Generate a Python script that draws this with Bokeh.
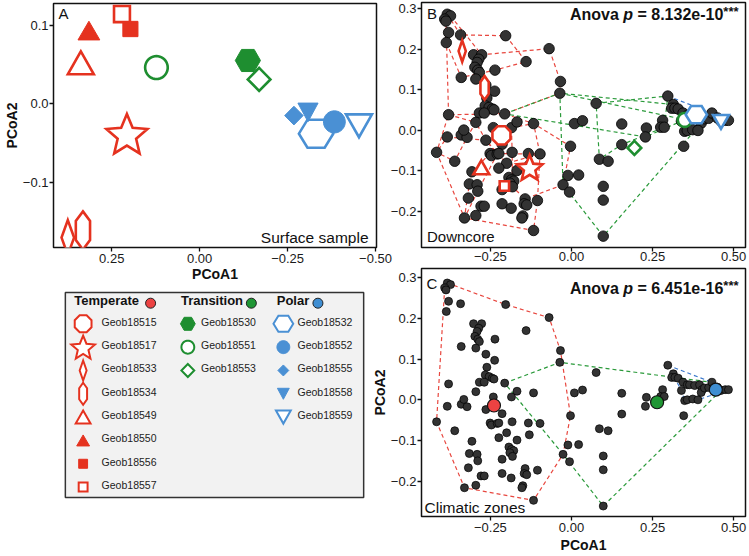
import math
from bokeh.plotting import figure
from bokeh.models import Range1d, FixedTicker, CustomJSTickFormatter
from bokeh.layouts import row, column
from bokeh.core.properties import value
from bokeh.embed import file_html
from bokeh.resources import INLINE

# ---------------------------------------------------------------- data
NA = float("nan")
samples = ["Geob18515", "Geob18517", "Geob18533", "Geob18534", "Geob18549",
           "Geob18550", "Geob18556", "Geob18557",
           "Geob18530", "Geob18551", "Geob18553",
           "Geob18532", "Geob18552", "Geob18555", "Geob18558", "Geob18559"]
zones = ["Temperate"] * 8 + ["Transition"] * 3 + ["Polar"] * 5
zone_order = ["Temperate", "Transition", "Polar"]

# Panel A: surface samples
surf_pcoa1 = [NA, 0.207, 0.375, 0.332, 0.338, 0.315, 0.197, 0.221,
              -0.137, 0.123, -0.169, -0.331, -0.383, -0.268, -0.308, -0.453]
surf_pcoa2 = [NA, -0.038, -0.170, -0.161, 0.052, 0.093, 0.095, 0.114,
              0.055, 0.046, 0.031, -0.038, -0.023, -0.015, -0.011, -0.028]

# Panel B: core means of downcore samples
core_pcoa1 = [-0.216, -0.129, -0.337, -0.268, -0.278, NA, NA, -0.207,
              NA, 0.349, 0.194, 0.385, NA, NA, NA, 0.461]
core_pcoa2 = [-0.012, -0.091, 0.196, 0.105, -0.091, NA, NA, -0.137,
              NA, 0.026, -0.043, 0.039, NA, NA, NA, 0.021]

# Downcore samples (panels B and C)
down_pcoa1 = [-0.383, -0.373, -0.391, -0.387, -0.379, -0.386, -0.342, -0.203, -0.069, -0.140,
              -0.302, -0.277, -0.286, -0.291, -0.298, -0.289, -0.284, -0.295, -0.236, -0.340,
              -0.264, -0.034, -0.036, -0.237, -0.261, -0.266, -0.254, -0.244, -0.239, -0.284,
              -0.269, -0.206, -0.379, 0.076, -0.295, -0.241, -0.185, -0.168, -0.117, 0.009,
              0.034, -0.383, -0.340, -0.322, -0.264, -0.416, -0.214, -0.251, -0.247, -0.229,
              -0.224, -0.183, -0.133, -0.097, -0.003, -0.360, -0.200, -0.224, -0.307, -0.168,
              -0.130, -0.193, -0.185, -0.178, -0.190, -0.182, -0.315, -0.291, -0.289, -0.214,
              -0.011, 0.022, -0.026, -0.006, -0.318, -0.279, -0.269, -0.214, -0.186, -0.143,
              -0.146, -0.138, -0.105, -0.150, -0.153, -0.295, -0.330, -0.117, 0.086, 0.113,
              0.098, 0.098, 0.098, 0.155, 0.155, 0.231, 0.228, 0.281, 0.275, 0.286,
              0.297, 0.314, 0.309, 0.319, 0.329, 0.344, 0.339, 0.357, 0.364, 0.380,
              0.395, 0.403, 0.400, 0.410, 0.423, 0.433, 0.349, 0.357, 0.374, 0.390,
              0.346, 0.461, 0.474, 0.484, 0.450, -0.332]
down_pcoa2 = [0.287, 0.283, 0.275, 0.270, 0.242, 0.217, 0.236, 0.234, 0.202, 0.170,
              0.187, 0.187, 0.176, 0.168, 0.156, 0.149, 0.143, 0.127, 0.149, 0.131,
              0.112, 0.121, 0.092, 0.097, 0.080, 0.061, 0.057, 0.053, 0.051, 0.043,
              0.043, 0.041, 0.039, 0.067, 0.020, 0.007, 0.007, 0.021, 0.017, 0.017,
              0.024, -0.016, -0.011, -0.017, -0.024, -0.054, -0.034, -0.057, -0.062, -0.058,
              -0.057, -0.054, -0.057, -0.058, -0.039, -0.076, -0.081, -0.093, -0.102, -0.099,
              -0.086, -0.116, -0.122, -0.125, -0.130, -0.139, -0.132, -0.134, -0.150, -0.146,
              -0.111, -0.110, -0.134, -0.152, -0.167, -0.187, -0.187, -0.181, -0.192, -0.169,
              -0.181, -0.184, -0.173, -0.211, -0.216, -0.210, -0.216, -0.247, -0.071, -0.076,
              -0.138, -0.172, -0.261, 0.016, -0.035, 0.006, -0.016, 0.025, 0.008, 0.008,
              0.085, 0.064, 0.055, 0.055, 0.053, 0.043, 0.023, 0.037, 0.037, 0.035,
              0.037, 0.025, 0.018, 0.029, 0.030, 0.043, -0.002, 0.000, 0.002, 0.000,
              -0.039, 0.023, 0.025, 0.025, 0.031, 0.001]

# Hull outlines (indices into the downcore samples)
core_hulls_temperate = [[0, 6, 7, 9, 18, 19, 5, 2],
                        [1, 11, 8, 21, 22, 31, 32, 3],
                        [30, 31, 38, 53, 56, 44, 34],
                        [41, 44, 49, 68, 86, 45],
                        [36, 38, 54, 72, 79, 65, 51],
                        [47, 53, 82, 87, 86, 66, 58],
                        [32, 34, 43, 55, 45]]
core_hulls_transition = [[31, 22, 101, 106, 96],
                         [22, 112, 92, 72],
                         [33, 100, 99, 94, 88]]
core_hulls_polar = [[100, 115, 109, 102],
                    [105, 123, 112, 116]]
zone_hull_temperate = [0, 7, 8, 21, 54, 72, 87, 86, 45, 2]
zone_hull_transition = [31, 22, 115, 121, 92, 72]
zone_hull_polar = [100, 115, 123, 119, 116, 106]

# Climatic zone centroids (panel C)
zone_pcoa1 = [-0.239, 0.264, 0.445]
zone_pcoa2 = [-0.014, -0.006, 0.025]

anova_b = "8.132e-10"
anova_c = "6.451e-16"

a_xticks = [0.25, 0.0, -0.25, -0.5]
a_yticks = [0.1, 0.0, -0.1]
bc_xticks = [-0.25, 0.0, 0.25, 0.5]
bc_yticks = [0.3, 0.2, 0.1, 0.0, -0.1, -0.2]

# ---------------------------------------------------------------- styles
FONT = "Liberation Sans"
MARK_COL = {"Temperate": "#E5321F", "Transition": "#1E8E30", "Polar": "#4A90D4"}
DOT_COL = {"Temperate": "#EC4242", "Transition": "#1F9634", "Polar": "#3F8ED2"}
HULL_COL = {"Temperate": "#E8473F", "Transition": "#2A9A3A", "Polar": "#3B78CC"}
SHAPE = {
    "Geob18515": ("oct", False, 19, 19),
    "Geob18517": ("star", False, 26, 26),
    "Geob18533": ("diamond", False, 9, 22),
    "Geob18534": ("vhex", False, 10, 24),
    "Geob18549": ("tri", False, 17, 15),
    "Geob18550": ("tri", True, 13, 11),
    "Geob18556": ("sq", True, 9, 9),
    "Geob18557": ("sq", False, 11, 11),
    "Geob18530": ("hex", True, 15, 13),
    "Geob18551": ("circle", False, 15, 15),
    "Geob18553": ("diamond", False, 15, 15),
    "Geob18532": ("hex", False, 22, 18),
    "Geob18552": ("circle", True, 13, 13),
    "Geob18555": ("diamond", True, 11, 11),
    "Geob18558": ("itri", True, 12, 11),
    "Geob18559": ("itri", False, 17, 15),
}
TB = -6.0          # baseline correction for text glyphs (px)
TICK_FS = "13px"
LAB_FS = "14px"


def shape_offsets(kind, w, h):
    if kind == "oct":
        r = (w / 2) / math.cos(math.pi / 8)
        return [(r * math.cos(math.pi / 8 + k * math.pi / 4),
                 r * math.sin(math.pi / 8 + k * math.pi / 4)) for k in range(8)]
    if kind == "star":
        R = w / (2 * math.sin(2 * math.pi / 5))
        pts = []
        for k in range(10):
            a = math.pi / 2 + k * math.pi / 5
            rr = R if k % 2 == 0 else R * 0.45
            pts.append((rr * math.cos(a), rr * math.sin(a)))
        ys = [q[1] for q in pts]
        c = (max(ys) + min(ys)) / 2
        return [(x, y - c) for x, y in pts]
    if kind == "diamond":
        return [(0, h / 2), (w / 2, 0), (0, -h / 2), (-w / 2, 0)]
    if kind == "vhex":
        return [(0, h / 2), (w / 2, h / 4), (w / 2, -h / 4), (0, -h / 2),
                (-w / 2, -h / 4), (-w / 2, h / 4)]
    if kind == "tri":
        return [(-w / 2, -h / 2), (w / 2, -h / 2), (0, h / 2)]
    if kind == "itri":
        return [(-w / 2, h / 2), (w / 2, h / 2), (0, -h / 2)]
    if kind == "sq":
        return [(-w / 2, -w / 2), (w / 2, -w / 2), (w / 2, w / 2), (-w / 2, w / 2)]
    if kind == "hex":
        return [(w / 2, 0), (w / 4, h / 2), (-w / 4, h / 2), (-w / 2, 0),
                (-w / 4, -h / 2), (w / 4, -h / 2)]
    r = w / 2
    return [(r * math.cos(2 * math.pi * k / 40), r * math.sin(2 * math.pi * k / 40))
            for k in range(40)]


def draw_samples(p, names, zs, xs, ys, sx, sy, scale, lw):
    X, Y, F, L, W = [], [], [], [], []
    for name, z, cx, cy in zip(names, zs, xs, ys):
        if cx != cx or cy != cy:
            continue
        kind, filled, w, h = SHAPE[name]
        w, h = w * scale, h * scale
        if not filled:
            w, h = w - lw, h - lw
        offs = shape_offsets(kind, w, h)
        X.append([cx + dx / sx for dx, dy in offs])
        Y.append([cy + dy / sy for dx, dy in offs])
        F.append(MARK_COL[z] if filled else "white")
        L.append(MARK_COL[z])
        W.append(1.0 if filled else lw)
    p.patches(X, Y, fill_color=F, line_color=L, line_width=W, line_join="miter")


def fmt(dec):
    return CustomJSTickFormatter(
        code="return (tick < 0 ? '\\u2212' : '') + Math.abs(tick).toFixed(%d);" % dec)


def add_text(p, x, y, txt, size, style="normal", align="left", xo=0, yo=0,
             color="#111111"):
    p.text(x=[x], y=[y], text=[txt], text_font=value(FONT),
           text_font_size=value("%spx" % size), text_font_style=style,
           text_align=align, text_baseline="alphabetic", x_offset=xo, y_offset=yo + TB,
           text_color=color)


def make_panel(w, h, xr, yr, bl, br, bt, bb, xt, yt, xdec, ydec, xlab, ylab,
               xstand=2, ystand=1, xlabstand=0):
    p = figure(width=w, height=h, x_range=Range1d(*xr), y_range=Range1d(*yr),
               output_backend="svg", toolbar_location=None,
               min_border_left=bl, min_border_right=br, min_border_top=bt,
               min_border_bottom=bb)
    p.grid.visible = False
    p.outline_line_color = "#111111"
    p.outline_line_width = 1.5
    p.background_fill_color = "white"
    p.border_fill_color = None
    p.xaxis.ticker = FixedTicker(ticks=xt)
    p.yaxis.ticker = FixedTicker(ticks=yt)
    p.xaxis.formatter = fmt(xdec)
    p.yaxis.formatter = fmt(ydec)
    for ax, lab, st in ((p.xaxis[0], xlab, xstand), (p.yaxis[0], ylab, ystand)):
        ax.axis_line_color = None
        ax.major_tick_in = 0
        ax.major_tick_out = 4
        ax.major_tick_line_width = 1.3
        ax.major_tick_line_color = "#111111"
        ax.minor_tick_line_color = None
        ax.major_label_text_font = FONT
        ax.major_label_text_font_size = TICK_FS
        ax.major_label_text_color = "#1a1a1a"
        ax.major_label_standoff = st
        ax.axis_label = lab
        ax.axis_label_text_font = FONT
        ax.axis_label_text_font_size = LAB_FS
        ax.axis_label_text_font_style = "bold"
        ax.axis_label_text_color = "#111111"
        ax.axis_label_standoff = 0
    p.xaxis[0].axis_label_standoff = xlabstand
    return p


# bold Arial-like advance widths (per 1000 em) for the Anova label
BW = {"A": 722, "n": 611, "o": 611, "v": 556, "a": 556, " ": 278, "p": 611,
      "=": 584, ".": 278, "e": 556, "-": 333, "*": 389}


def tw(s, size):
    return sum(BW.get(ch, 556) for ch in s) * size / 1000.0


def anova(p, pv, yo):
    x, y = p.x_range.end, p.y_range.end
    parts = [("Anova", 16, "bold"), (" ", 16, "bold"), ("p", 16, "bold italic"),
             (" ", 16, "bold"), ("= " + pv, 16, "bold"), ("***", 13, "bold")]
    total = sum(tw(s, f) for s, f, _ in parts)
    cur = -7 - total
    for s, f, st in parts:
        if s.strip():
            add_text(p, x, y, s, f, st, xo=cur, yo=yo if s != "***" else yo - 3)
        cur += tw(s, f)


# layout (px): left column 394 wide, right column 380 wide overlapping by 26
COL1_W, COL2_W, OVERLAP, TOTAL_H = 394, 380, 26, 555

# ---------------------------------------------------------------- panel A
A_XR = (0.4157, -0.5028)
A_YR = (-0.1826, 0.1274)
A_BL, A_BR, A_BT, A_FH, A_H = 49, 18, 3, 244, 290
pa = make_panel(COL1_W, A_H, A_XR, A_YR, A_BL, A_BR, A_BT, A_H - A_BT - A_FH,
                a_xticks, a_yticks, 2, 1, "PCoA1", "PCoA2", xstand=2, ystand=1)
a_sx = (COL1_W - A_BL - A_BR) / (A_XR[1] - A_XR[0])
a_sy = A_FH / (A_YR[1] - A_YR[0])
draw_samples(pa, samples, zones, surf_pcoa1, surf_pcoa2, a_sx, a_sy, 1.7, 2.6)
add_text(pa, A_XR[0], A_YR[1], "A", 15, xo=5, yo=15.7)
add_text(pa, A_XR[1], A_YR[0], "Surface sample", 15.5, align="right", xo=-8, yo=-4)

# ---------------------------------------------------------------- legend
L_H = TOTAL_H - A_H
lg = figure(width=COL1_W, height=L_H, x_range=Range1d(A_BL, COL1_W - A_BR),
            y_range=Range1d(L_H, 0), output_backend="svg", toolbar_location=None,
            min_border_left=A_BL, min_border_right=A_BR, min_border_top=0,
            min_border_bottom=0, x_axis_location=None, y_axis_location=None)
lg.grid.visible = False
lg.outline_line_color = None
lg.background_fill_color = None
lg.border_fill_color = None
lg.quad(left=[61], right=[363], top=[2], bottom=[207], fill_color="#F2F2F2",
        line_color="#333333", line_width=1.5)
HEAD_X = [70, 178, 275]
DOT_X = [147.3, 249.3, 316.7]
MARK_X = [79, 185, 281.7]
TEXT_X = [97.7, 198.3, 296]
HEAD_Y = 12.7
ROW0, ROW_DY = 33.3, 23.33
for j, z in enumerate(zone_order):
    add_text(lg, HEAD_X[j], 16, z, 13, "bold")
lg.scatter(DOT_X, [HEAD_Y] * 3, size=10, marker="circle",
           fill_color=[DOT_COL[z] for z in zone_order], line_color="#222222",
           line_width=1)
lx, ly, ltx, lty, ltxt = [], [], [], [], []
for j, z in enumerate(zone_order):
    members = [s for s, zz in zip(samples, zones) if zz == z]
    for i, s in enumerate(members):
        lx.append(MARK_X[j])
        ly.append(ROW0 + i * ROW_DY)
        ltx.append(TEXT_X[j])
        lty.append(ROW0 + i * ROW_DY + 4)
        ltxt.append(s)
draw_samples(lg, samples, zones, lx, ly, 1.0, -1.0, 1.0, 2.0)
lg.text(x=ltx, y=lty, text=ltxt, text_font=value(FONT), text_font_size=value("10.5px"),
        text_baseline="alphabetic", text_align="left", text_color="#222222",
        y_offset=TB)

# ---------------------------------------------------------------- panel B
BC_XR = (-0.4625, 0.5366)
B_YR = (-0.289, 0.316)
BC_BL, BC_BR = 48, 3
B_BT, B_FH, B_H = 2, 245, 267
pb = make_panel(COL2_W, B_H, BC_XR, B_YR, BC_BL, BC_BR, B_BT, B_H - B_BT - B_FH,
                bc_xticks, bc_yticks, 2, 1, None, None, xstand=0, ystand=1)
b_sx = (COL2_W - BC_BL - BC_BR) / (BC_XR[1] - BC_XR[0])
b_sy = B_FH / (B_YR[1] - B_YR[0])
for z, hulls in (("Temperate", core_hulls_temperate), ("Transition", core_hulls_transition),
                 ("Polar", core_hulls_polar)):
    pb.multi_line([[down_pcoa1[i] for i in h + h[:1]] for h in hulls],
                  [[down_pcoa2[i] for i in h + h[:1]] for h in hulls],
                  line_color=HULL_COL[z], line_width=1.2, line_dash="4 3")
pb.scatter(down_pcoa1, down_pcoa2, size=10.5, marker="circle", fill_color="#333333",
           line_color="#000000", line_width=0.8)
draw_samples(pb, samples, zones, core_pcoa1, core_pcoa2, b_sx, b_sy, 1.1, 2.6)
add_text(pb, BC_XR[0], B_YR[1], "B", 15, xo=5.5, yo=16.7)
add_text(pb, BC_XR[0], B_YR[0], "Downcore", 15, xo=5.5, yo=-5)
anova(pb, anova_b, 17.5)

# ---------------------------------------------------------------- panel C
C_YR = (-0.2867, 0.3226)
C_H = TOTAL_H - B_H
C_BT, C_FH = 1, 248
pc = make_panel(COL2_W, C_H, BC_XR, C_YR, BC_BL, BC_BR, C_BT, C_H - C_BT - C_FH,
                bc_xticks, bc_yticks, 2, 1, "PCoA1", "PCoA2", xstand=2, ystand=1,
                xlabstand=2)
for z, h in (("Temperate", zone_hull_temperate), ("Transition", zone_hull_transition),
             ("Polar", zone_hull_polar)):
    pc.line([down_pcoa1[i] for i in h + h[:1]], [down_pcoa2[i] for i in h + h[:1]],
            line_color=HULL_COL[z], line_width=1.2, line_dash="4 3")
pc.scatter(down_pcoa1, down_pcoa2, size=8, marker="circle", fill_color="#333333",
           line_color="#000000", line_width=0.7)
pc.scatter(zone_pcoa1, zone_pcoa2, size=13, marker="circle",
           fill_color=[DOT_COL[z] for z in zone_order], line_color="#111111",
           line_width=1.2)
add_text(pc, BC_XR[0], C_YR[1], "C", 15, xo=5, yo=20.7)
add_text(pc, BC_XR[0], C_YR[0], "Climatic zones", 15.5, xo=3, yo=-2.7)
anova(pc, anova_c, 25.5)

# ---------------------------------------------------------------- layout
page = row(column(pa, lg), column(pb, pc, margin=(0, 0, 0, -OVERLAP)))

open("out.html", "w").write(file_html(page, INLINE))
